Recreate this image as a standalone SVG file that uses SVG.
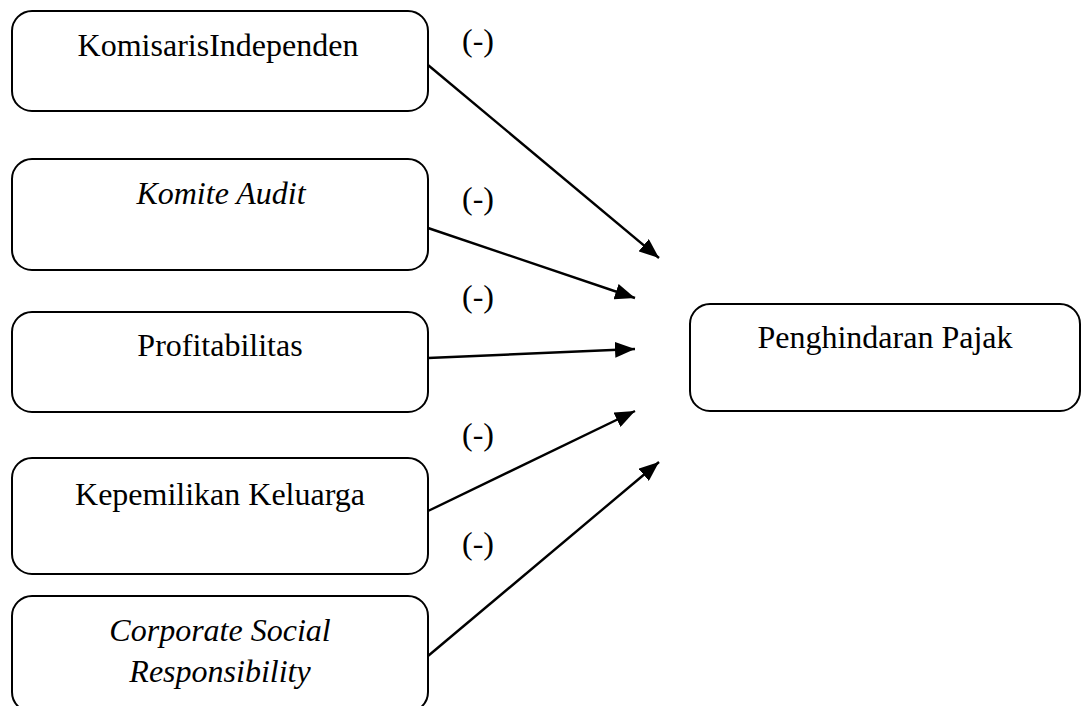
<svg xmlns="http://www.w3.org/2000/svg" width="1083" height="706" viewBox="0 0 1083 706">
<style>
.box{fill:#fff;stroke:#000;stroke-width:2}
.t{font-family:"Liberation Serif","Times New Roman",serif;font-size:32px;fill:#000;text-anchor:middle}
.i{font-style:italic}
.c{stroke:#000;stroke-width:2.4;fill:none;marker-end:url(#ah)}
</style>
<defs>
<marker id="ah" markerUnits="userSpaceOnUse" markerWidth="20" markerHeight="16" viewBox="0 0 20 16" refX="20" refY="8" orient="auto">
<path d="M0,0 L20,8 L0,16 Z" fill="#000"/>
</marker>
</defs>
<rect width="1083" height="706" fill="#fff"/>
<g id="n1"><rect class="box" x="12" y="11" width="416" height="100" rx="20"/><text class="t" x="218" y="56">KomisarisIndependen</text></g>
<g id="n2"><rect class="box" x="12" y="159" width="416" height="111" rx="20"/><text class="t i" x="221" y="204">Komite Audit</text></g>
<g id="n3"><rect class="box" x="12" y="312" width="416" height="100" rx="20"/><text class="t" x="220" y="356">Profitabilitas</text></g>
<g id="n4"><rect class="box" x="12" y="458" width="416" height="116" rx="20"/><text class="t" x="220" y="505">Kepemilikan Keluarga</text></g>
<g id="n5"><rect class="box" x="12" y="596" width="416" height="116" rx="20"/><text class="t i" x="220" y="641">Corporate Social</text><text class="t i" x="220" y="682">Responsibility</text></g>
<g id="n6"><rect class="box" x="690" y="304" width="390" height="107" rx="20"/><text class="t" x="885" y="348">Penghindaran Pajak</text></g>
<g id="connectors">
<line class="c" x1="428" y1="65" x2="659" y2="258"/>
<line class="c" x1="428" y1="228" x2="635" y2="298"/>
<line class="c" x1="428" y1="358" x2="635" y2="349"/>
<line class="c" x1="428" y1="511" x2="635" y2="411"/>
<line class="c" x1="428" y1="656" x2="659" y2="462"/>
</g>
<g id="labels">
<text class="t" x="478" y="51">(-)</text>
<text class="t" x="478" y="209">(-)</text>
<text class="t" x="478" y="307">(-)</text>
<text class="t" x="478" y="445">(-)</text>
<text class="t" x="478" y="554">(-)</text>
</g>
</svg>
